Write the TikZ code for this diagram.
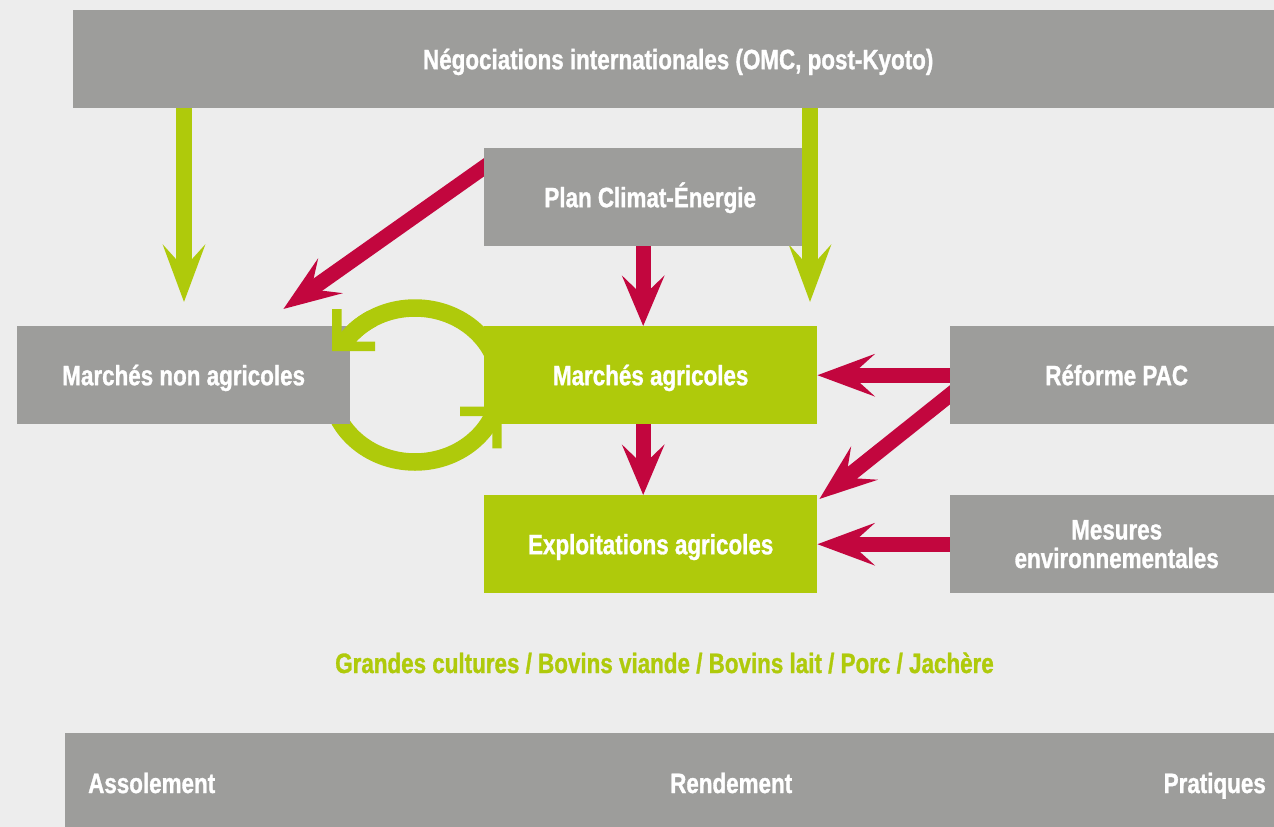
\documentclass[tikz,border=0pt]{standalone}
\usepackage{fontspec}
\newfontfamily\condfont[FakeStretch=0.8,FakeBold=1.1]{Liberation Sans}
\usetikzlibrary{arrows.meta}
\definecolor{bgc}{HTML}{EDEDED}
\definecolor{boxgray}{HTML}{9D9D9B}
\definecolor{agri}{HTML}{AFCA0B}
\definecolor{redc}{HTML}{C2063E}
\pgfdeclarelayer{bg}
\pgfdeclarelayer{back}
\pgfsetlayers{bg,back,main}
\begin{document}
\begin{tikzpicture}[x=1bp,y=-1bp,
  txt/.style={font=\condfont\bfseries\fontsize{28bp}{28.6bp}\selectfont},
  boxbase/.style={txt, fill=boxgray, text=white, anchor=north west, inner sep=0pt, minimum height=98bp},
  onel/.style={text height=20bp, text depth=0bp},
  greenbox/.style={fill=agri},
  garrow/.style={draw=agri, line width=16bp, -{Stealth[length=57bp,width=42bp,inset=23bp]}},
  rarrow/.style={draw=redc, line width=15bp, -{Stealth[length=57bp,width=42bp,inset=23bp]}},
  rarrowshort/.style={draw=redc, line width=15bp, -{Stealth[length=50bp,width=42bp,inset=20bp]}},
  ring/.style={draw=agri, line width=17.5bp},
  chev/.style={fill=agri},
  bartxt/.style={txt, text=white, inner sep=0pt}
]
\useasboundingbox (0,0) rectangle (1274,827);
\begin{pgfonlayer}{bg}
  \fill[bgc] (0,0) rectangle (1274,827);
\end{pgfonlayer}

% boxes
\node[boxbase, onel, minimum width=1210bp] (top) at (73,10) {Négociations internationales (OMC, post-Kyoto)};
\node[boxbase, onel, minimum width=318bp] (plan) at (484,148) {\hspace*{14bp}Plan Climat-Énergie};
\node[boxbase, onel, minimum width=333bp] (nma) at (17,326) {Marchés non agricoles};
\node[boxbase, onel, greenbox, minimum width=333bp] (ma) at (484,326) {Marchés agricoles};
\node[boxbase, onel, minimum width=333bp] (ref) at (950,326) {Réforme PAC};
\node[boxbase, onel, greenbox, minimum width=333bp] (ex) at (484,495) {Exploitations agricoles};
\node[boxbase, align=center, minimum width=333bp] (mes) at (950,495) {Mesures\\environnementales};

\node[txt, onel, text=agri, inner sep=0pt] (cats) at (664.5,663) {Grandes cultures / Bovins viande / Bovins lait / Porc / Jachère};

\node[boxbase, minimum width=1218bp, minimum height=100bp] (bar) at (65,733) {};
\node[bartxt, anchor=base west] (t1) at (88,793) {Assolement};
\node[bartxt, anchor=base west] (t2) at (670,793) {Rendement};
\node[bartxt, anchor=base east] (t3) at (1266,793) {Pratiques};

% connectors
\coordinate (gl) at (184,0);
\coordinate (gr) at (810,0);
\begin{pgfonlayer}{back}
  \draw[garrow, shorten >=24bp] (top.south -| gl) -- (nma.north -| gl);
  \draw[garrow, shorten >=24bp] (top.south -| gr) -- (ma.north -| gr);
  \draw[rarrow] ([xshift=8bp,yshift=35.6bp]plan.west) -- ([xshift=-67bp,yshift=17bp]nma.north east);
  \draw[rarrowshort] (plan.south) -- (plan.south |- ma.north);
  \draw[rarrowshort] (ma.south -| plan.south) -- (ex.north -| plan.south);
  \draw[rarrow] (ref.west) -- (ma.east);
  \draw[rarrow] ([xshift=12bp,yshift=-10bp]ref.west) -- ([xshift=2bp,yshift=-4bp]ex.north east);
  \draw[rarrow] (mes.west) -- (ex.east);
  \draw[ring] (415,385) ellipse [x radius=85, y radius=77];
\end{pgfonlayer}

% end of the upper loop arc, over the grey box, and the chevron heads
\coordinate (arcstart) at (372.5,318.3);
\draw[ring] (arcstart) arc[start angle=240, end angle=212, x radius=85, y radius=77];
\fill[chev] (332,309) -- (341.7,309) -- (341.7,341.7) -- (375,341.7) -- (375,351) -- (332,351) -- cycle;
\fill[chev] (460,406.7) -- (501.7,406.7) -- (501.7,448.3) -- (492.3,448.3) -- (492.3,416) -- (460,416) -- cycle;
\end{tikzpicture}
\end{document}
